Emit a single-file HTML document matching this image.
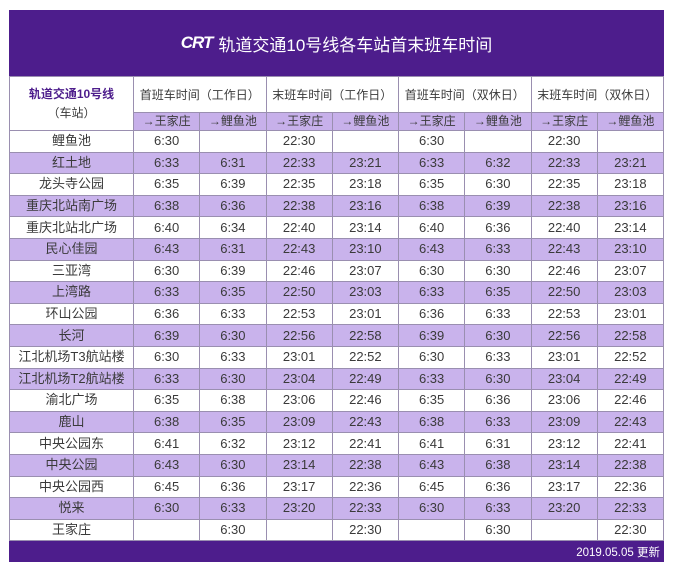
<!DOCTYPE html>
<html><head><meta charset="utf-8"><style>
html,body{margin:0;padding:0;background:#fff;width:674px;height:568px;overflow:hidden}
body{font-family:"Liberation Sans","Noto Sans CJK SC",sans-serif;position:relative}
#frame{position:absolute;left:9px;top:10px;width:655px;height:552px;background:#4d1d8c}
#title{position:absolute;left:0;top:0;width:655px;height:66px;display:flex;align-items:center;justify-content:center;color:#fff;font-size:17px}
#logo{font-style:italic;font-weight:bold;font-size:17px;margin-right:6px;letter-spacing:-1px}
table{position:absolute;left:0;top:66px;border-collapse:collapse;table-layout:fixed;width:655px;background:#fff}
td{border:1px solid #9a8fb0;text-align:center;color:#3a3a3a;font-size:13px;padding:0;height:20.6px;line-height:20px;overflow:hidden;white-space:nowrap}
tr.h1 td{height:35px;font-size:12px}
tr.h2 td{height:17px;line-height:17px;background:#c7b0ea;font-size:12px}
td.corner{color:#4d1d8c;font-size:12px;line-height:19px}
tr.alt td{background:#c9b3ec}
#foot{position:absolute;right:4px;bottom:2px;color:#fff;font-size:11.5px}
</style></head><body>
<div id="frame">
<div id="title"><span id="logo">CRT</span>轨道交通10号线各车站首末班车时间</div>
<table>
<colgroup><col style="width:124px"><col><col><col><col><col><col><col><col></colgroup>
<tr class="h1"><td rowspan="2" class="corner"><b>轨道交通10号线</b><br><span style="color:#3a3a3a">（车站）</span></td>
<td colspan="2">首班车时间（工作日）</td>
<td colspan="2">末班车时间（工作日）</td>
<td colspan="2">首班车时间（双休日）</td>
<td colspan="2">末班车时间（双休日）</td></tr>
<tr class="h2"><td>→王家庄</td><td>→鲤鱼池</td><td>→王家庄</td><td>→鲤鱼池</td><td>→王家庄</td><td>→鲤鱼池</td><td>→王家庄</td><td>→鲤鱼池</td></tr>
<tbody id="body"></tbody>
</table>
<div id="foot">2019.05.05 更新</div>
</div>
<script>
const stations=["鲤鱼池","红土地","龙头寺公园","重庆北站南广场","重庆北站北广场","民心佳园","三亚湾","上湾路","环山公园","长河","江北机场T3航站楼","江北机场T2航站楼","渝北广场","鹿山","中央公园东","中央公园","中央公园西","悦来","王家庄"];
const times=[
["6:30","","22:30","","6:30","","22:30",""],
["6:33","6:31","22:33","23:21","6:33","6:32","22:33","23:21"],
["6:35","6:39","22:35","23:18","6:35","6:30","22:35","23:18"],
["6:38","6:36","22:38","23:16","6:38","6:39","22:38","23:16"],
["6:40","6:34","22:40","23:14","6:40","6:36","22:40","23:14"],
["6:43","6:31","22:43","23:10","6:43","6:33","22:43","23:10"],
["6:30","6:39","22:46","23:07","6:30","6:30","22:46","23:07"],
["6:33","6:35","22:50","23:03","6:33","6:35","22:50","23:03"],
["6:36","6:33","22:53","23:01","6:36","6:33","22:53","23:01"],
["6:39","6:30","22:56","22:58","6:39","6:30","22:56","22:58"],
["6:30","6:33","23:01","22:52","6:30","6:33","23:01","22:52"],
["6:33","6:30","23:04","22:49","6:33","6:30","23:04","22:49"],
["6:35","6:38","23:06","22:46","6:35","6:36","23:06","22:46"],
["6:38","6:35","23:09","22:43","6:38","6:33","23:09","22:43"],
["6:41","6:32","23:12","22:41","6:41","6:31","23:12","22:41"],
["6:43","6:30","23:14","22:38","6:43","6:38","23:14","22:38"],
["6:45","6:36","23:17","22:36","6:45","6:36","23:17","22:36"],
["6:30","6:33","23:20","22:33","6:30","6:33","23:20","22:33"],
["","6:30","","22:30","","6:30","","22:30"]];
const tb=document.getElementById('body');
stations.forEach((s,i)=>{
 const tr=document.createElement('tr');
 
 
 if(i%2===1)tr.className='alt';
 const td=document.createElement('td');td.textContent=s;
 
 
 tr.appendChild(td);
 times[i].forEach(t=>{const c=document.createElement('td');c.textContent=t;
 
 
 tr.appendChild(c);});
 tb.appendChild(tr);
});
</script>
</body></html>
